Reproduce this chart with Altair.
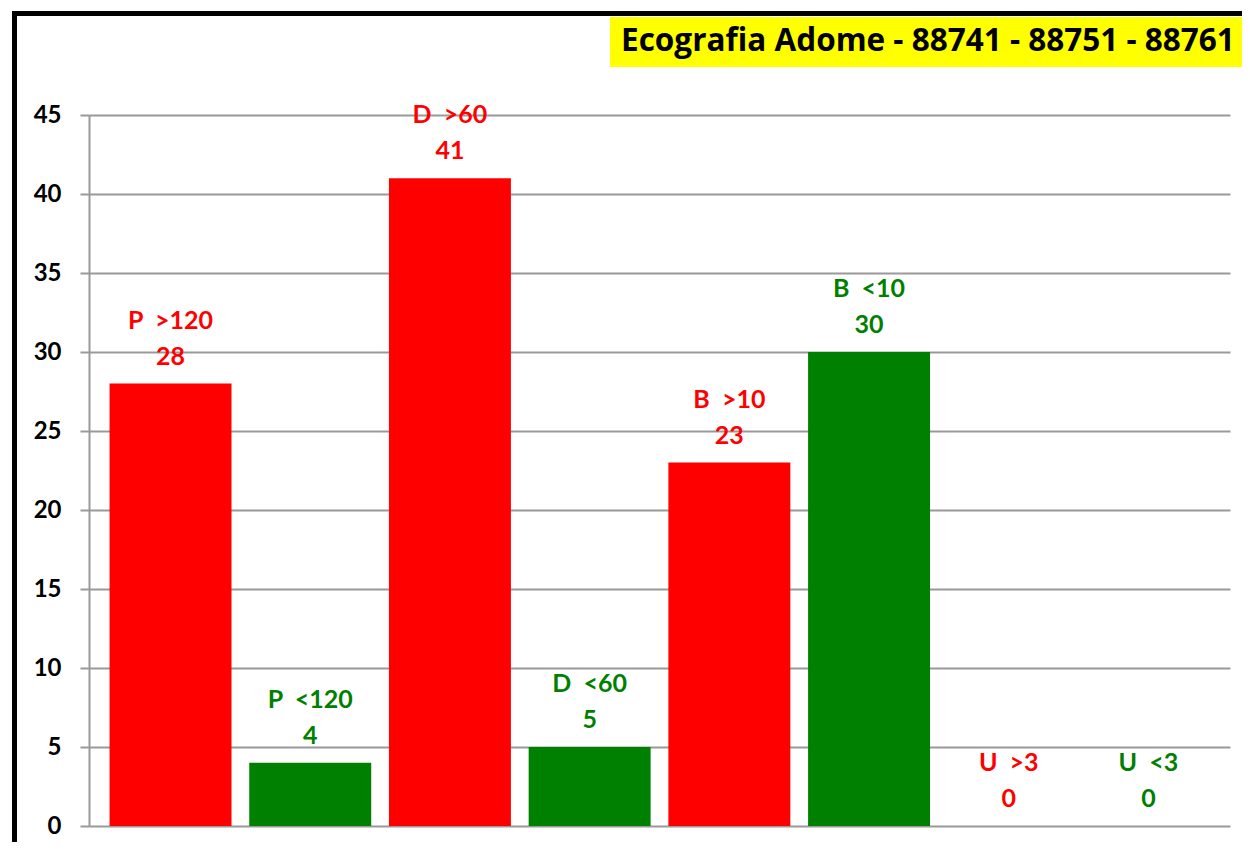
import altair as alt
import pandas as pd

categories = ["P\u00a0\u00a0>120", "P\u00a0\u00a0<120", "D\u00a0\u00a0>60", "D\u00a0\u00a0<60",
              "B\u00a0\u00a0>10", "B\u00a0\u00a0<10", "U\u00a0\u00a0>3", "U\u00a0\u00a0<3"]
values = [28, 4, 41, 5, 23, 30, 0, 0]
colors = ["#FF0000", "#008000", "#FF0000", "#008000", "#FF0000", "#008000", "#FF0000", "#008000"]
y_ticks = [0, 5, 10, 15, 20, 25, 30, 35, 40, 45]
title_text = "Ecografia Adome - 88741 - 88751 - 88761"

df = pd.DataFrame({"cat": categories, "value": values, "color": colors})

FONT = "Lato"
W, H = 1141, 711

x_enc = alt.X("cat:N", sort=categories, axis=None,
              scale=alt.Scale(paddingInner=0.127, paddingOuter=0.147))
y_enc = alt.Y("value:Q",
              scale=alt.Scale(domain=[0, 45], nice=False, zero=True),
              axis=alt.Axis(values=y_ticks, title=None, grid=True,
                            gridColor="#999999", gridWidth=2,
                            domainColor="#999999", domainWidth=2,
                            tickColor="#999999", tickWidth=2, tickSize=9,
                            labelFont=FONT, labelFontSize=24, labelFontWeight="bold",
                            labelColor="black", labelPadding=19))

base = alt.Chart(df)

bars = base.mark_bar().encode(x=x_enc, y=y_enc, color=alt.Color("color:N", scale=None))

name_text = base.mark_text(dy=-55, baseline="alphabetic", font=FONT, fontSize=25,
                           fontWeight="bold").encode(
    x=x_enc, y=alt.Y("value:Q"), text="cat:N", color=alt.Color("color:N", scale=None))

value_text = base.mark_text(dy=-19, baseline="alphabetic", font=FONT, fontSize=25,
                            fontWeight="bold").encode(
    x=x_enc, y=alt.Y("value:Q"), text="value:Q", color=alt.Color("color:N", scale=None))

one = alt.Chart(pd.DataFrame({"t": [title_text]}))

left_border = one.mark_rule(color="black", strokeWidth=5).encode(
    x=alt.value(-74.5), y=alt.value(-103), y2=alt.value(740))
top_border = one.mark_rule(color="black", strokeWidth=5).encode(
    x=alt.value(-77), x2=alt.value(1200), y=alt.value(-101.5))

yellow = one.mark_rect(color="#FFFF00").encode(
    x=alt.value(521), x2=alt.value(1200), y=alt.value(-98), y2=alt.value(-48))

title = one.mark_text(align="left", baseline="alphabetic", font="Open Sans", fontSize=31.5,
                      fontWeight="bold", color="black").encode(
    x=alt.value(532), y=alt.value(-64), text="t:N")

chart = alt.layer(bars, name_text, value_text, yellow, title, left_border, top_border).properties(
    width=W, height=H,
    autosize=alt.AutoSizeParams(type="none"),
    padding={"left": 81, "top": 107, "right": 12, "bottom": 16},
).configure_view(strokeWidth=0)

chart.save("out.html", embed_options={"renderer": "svg", "actions": False})
